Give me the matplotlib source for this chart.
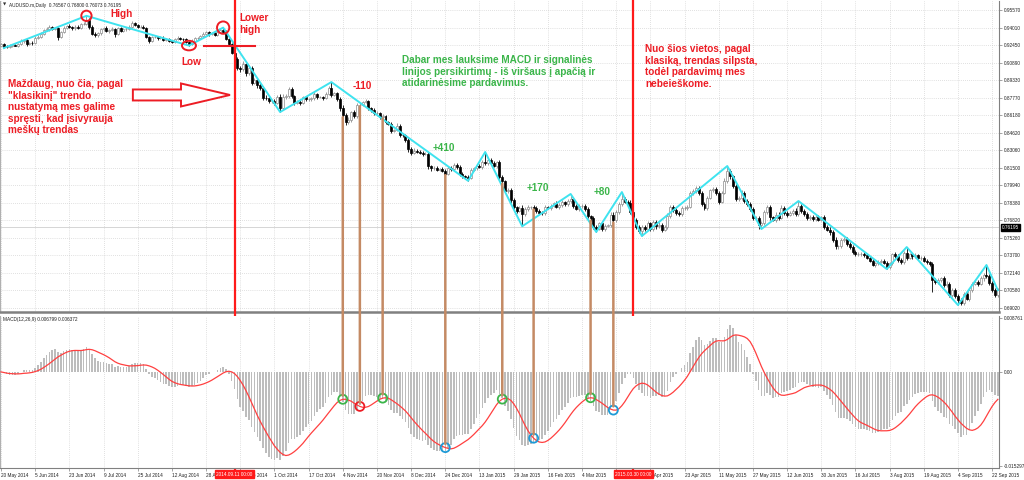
import matplotlib.pyplot as plt
from matplotlib.patches import Ellipse, FancyArrow, ConnectionPatch
import numpy as np
import pandas as pd

# AUDUSD daily closes, one per bar, 20 May 2014 .. 24 Sep 2015 (12 bars per row)
closes = [
    0.9255, 0.9230, 0.9225, 0.9235, 0.9245, 0.9240, 0.9250, 0.9280, 0.9290, 0.9255, 0.9265, 0.9260,
    0.9310, 0.9320, 0.9345, 0.9380, 0.9390, 0.9405, 0.9390, 0.9395, 0.9320, 0.9360, 0.9400, 0.9415,
    0.9405, 0.9395, 0.9410, 0.9395, 0.9430, 0.9435, 0.9470, 0.9410, 0.9345, 0.9330, 0.9350, 0.9385,
    0.9395, 0.9370, 0.9380, 0.9390, 0.9340, 0.9395, 0.9370, 0.9385, 0.9390, 0.9410, 0.9440, 0.9425,
    0.9405, 0.9410, 0.9395, 0.9320, 0.9285, 0.9315, 0.9320, 0.9305, 0.9310, 0.9290, 0.9300, 0.9285,
    0.9275, 0.9300, 0.9310, 0.9300, 0.9295, 0.9275, 0.9255, 0.9285, 0.9305, 0.9310, 0.9325, 0.9345,
    0.9360, 0.9340, 0.9350, 0.9335, 0.9360, 0.9375, 0.9365, 0.9300, 0.9250, 0.9175, 0.9120, 0.9040,
    0.9030, 0.9075, 0.9000, 0.9040, 0.8910, 0.8930, 0.8885, 0.8860, 0.8775, 0.8770, 0.8745, 0.8745,
    0.8730, 0.8785, 0.8680, 0.8780, 0.8790, 0.8850, 0.8790, 0.8730, 0.8740, 0.8730, 0.8780, 0.8760,
    0.8760, 0.8770, 0.8805, 0.8780, 0.8780, 0.8770, 0.8810, 0.8860, 0.8800, 0.8815, 0.8765, 0.8680,
    0.8620, 0.8555, 0.8575, 0.8645, 0.8610, 0.8710, 0.8715, 0.8735, 0.8745, 0.8685, 0.8665, 0.8635,
    0.8640, 0.8605, 0.8615, 0.8555, 0.8545, 0.8480, 0.8485, 0.8525, 0.8445, 0.8440, 0.8400, 0.8315,
    0.8285, 0.8305, 0.8295, 0.8285, 0.8275, 0.8275, 0.8165, 0.8145, 0.8150, 0.8135, 0.8140, 0.8125,
    0.8100, 0.8150, 0.8140, 0.8180, 0.8160, 0.8100, 0.8075, 0.8070, 0.8060, 0.8135, 0.8145, 0.8165,
    0.8160, 0.8200, 0.8190, 0.8220, 0.8190, 0.8170, 0.8200, 0.8065, 0.8030, 0.7945, 0.7955, 0.7860,
    0.7800, 0.7770, 0.7795, 0.7740, 0.7780, 0.7800, 0.7800, 0.7795, 0.7770, 0.7750, 0.7745, 0.7800,
    0.7795, 0.7810, 0.7835, 0.7805, 0.7820, 0.7845, 0.7825, 0.7855, 0.7870, 0.7810, 0.7785, 0.7810,
    0.7810, 0.7785, 0.7720, 0.7700, 0.7625, 0.7610, 0.7655, 0.7610, 0.7635, 0.7640, 0.7735, 0.7685,
    0.7755, 0.7825, 0.7875, 0.7850, 0.7840, 0.7755, 0.7690, 0.7625, 0.7590, 0.7625, 0.7610, 0.7655,
    0.7605, 0.7670, 0.7630, 0.7645, 0.7600, 0.7620, 0.7725, 0.7800, 0.7775, 0.7750, 0.7740, 0.7795,
    0.7795, 0.7805, 0.7925, 0.7940, 0.7970, 0.7930, 0.7830, 0.7795, 0.7885, 0.7950, 0.7960, 0.7925,
    0.7850, 0.7930, 0.8035, 0.8120, 0.8075, 0.7985, 0.7875, 0.7880, 0.7930, 0.7855, 0.7830, 0.7780,
    0.7705, 0.7705, 0.7640, 0.7660, 0.7755, 0.7800, 0.7710, 0.7690, 0.7735, 0.7705, 0.7795, 0.7750,
    0.7735, 0.7750, 0.7770, 0.7740, 0.7815, 0.7765, 0.7740, 0.7700, 0.7715, 0.7695, 0.7715, 0.7690,
    0.7710, 0.7625, 0.7600, 0.7575, 0.7510, 0.7450, 0.7450, 0.7510, 0.7520, 0.7470, 0.7445, 0.7400,
    0.7380, 0.7380, 0.7385, 0.7370, 0.7350, 0.7325, 0.7285, 0.7300, 0.7315, 0.7325, 0.7305, 0.7265,
    0.7300, 0.7380, 0.7365, 0.7330, 0.7310, 0.7390, 0.7350, 0.7380, 0.7365, 0.7370, 0.7345, 0.7350,
    0.7325, 0.7310, 0.7290, 0.7150, 0.7135, 0.7150, 0.7165, 0.7105, 0.7120, 0.7020, 0.7060, 0.7010,
    0.6975, 0.6945, 0.7025, 0.6985, 0.7060, 0.7120, 0.7135, 0.7120, 0.7165, 0.7200, 0.7185, 0.7125,
    0.7060, 0.7020, 0.7060,
]
first_open = 0.9240

# shadows above / below the body, in pips
wick_up = [
    10, 8, 12, 15, 6, 10, 12, 18, 10, 14, 9, 16,
    12, 10, 18, 9, 14, 20, 8, 15, 12, 10, 16, 9,
    14, 10, 9, 12, 8, 16, 35, 12, 10, 14, 9, 11,
    10, 18, 9, 12, 8, 15, 11, 9, 14, 10, 16, 12,
    11, 9, 14, 10, 8, 12, 15, 9, 11, 14, 8, 12,
    9, 12, 14, 8, 10, 11, 9, 12, 14, 10, 9, 12,
    14, 10, 12, 9, 11, 10, 25, 12, 8, 10, 12, 14,
    18, 30, 12, 25, 14, 20, 12, 18, 15, 22, 16, 14,
    15, 18, 20, 28, 15, 22, 18, 14, 16, 20, 12, 15,
    12, 15, 18, 10, 14, 12, 15, 20, 55, 15, 12, 14,
    30, 15, 25, 14, 20, 18, 15, 12, 16, 14, 12, 15,
    15, 12, 18, 10, 14, 16, 12, 25, 15, 18, 14, 20,
    18, 20, 15, 14, 12, 16, 20, 15, 18, 14, 12, 15,
    15, 20, 14, 18, 12, 16, 14, 15, 20, 18, 14, 16,
    16, 18, 92, 20, 15, 18, 14, 25, 18, 15, 20, 14,
    18, 15, 20, 25, 22, 18, 15, 16, 14, 18, 15, 20,
    15, 18, 14, 16, 15, 20, 14, 18, 48, 16, 15, 18,
    18, 15, 16, 14, 20, 18, 15, 22, 16, 14, 25, 18,
    20, 18, 60, 16, 15, 20, 18, 15, 16, 18, 14, 20,
    16, 18, 14, 20, 15, 18, 20, 22, 18, 15, 16, 20,
    18, 15, 20, 22, 16, 18, 15, 20, 18, 16, 20, 18,
    20, 18, 22, 47, 20, 16, 18, 22, 20, 18, 16, 20,
    18, 16, 20, 18, 22, 20, 18, 16, 20, 18, 22, 20,
    16, 18, 15, 20, 40, 18, 16, 14, 18, 15, 16, 18,
    15, 18, 16, 20, 18, 22, 16, 20, 18, 15, 18, 16,
    16, 18, 15, 14, 16, 18, 14, 16, 18, 15, 14, 16,
    14, 16, 18, 15, 20, 18, 55, 16, 14, 18, 15, 16,
    15, 16, 14, 18, 20, 22, 16, 18, 20, 16, 18, 20,
    18, 20, 16, 18, 20, 15, 18, 16, 20, 18, 85, 16,
    18, 16, 20,
]
wick_dn = [
    8, 12, 10, 6, 12, 8, 10, 7, 15, 18, 10, 14,
    10, 14, 8, 12, 9, 16, 12, 10, 30, 14, 8, 11,
    9, 12, 14, 8, 10, 7, 10, 18, 12, 15, 10, 12,
    12, 9, 14, 8, 20, 10, 12, 9, 11, 8, 10, 13,
    10, 12, 8, 15, 18, 10, 9, 14, 10, 8, 13, 9,
    12, 8, 10, 9, 14, 10, 15, 9, 8, 12, 10, 9,
    9, 12, 8, 10, 12, 9, 10, 14, 18, 12, 15, 20,
    25, 14, 28, 20, 18, 15, 22, 14, 20, 12, 18, 15,
    20, 14, 32, 18, 15, 20, 16, 18, 12, 15, 14, 12,
    14, 10, 12, 15, 9, 12, 10, 14, 18, 12, 15, 20,
    18, 22, 15, 20, 18, 15, 12, 14, 10, 15, 18, 12,
    12, 15, 14, 18, 12, 16, 14, 10, 18, 12, 16, 22,
    20, 14, 12, 15, 18, 14, 25, 18, 14, 16, 12, 15,
    14, 12, 18, 10, 16, 20, 15, 14, 25, 12, 15, 14,
    15, 20, 18, 14, 18, 16, 20, 15, 20, 18, 14, 22,
    20, 18, 15, 110, 18, 16, 14, 15, 18, 14, 16, 12,
    14, 16, 12, 15, 18, 14, 16, 12, 15, 18, 14, 16,
    16, 18, 15, 20, 18, 31, 16, 18, 20, 14, 16, 22,
    15, 14, 18, 16, 20, 15, 18, 22, 16, 47, 18, 14,
    18, 14, 20, 16, 18, 14, 15, 18, 16, 20, 14, 16,
    16, 20, 14, 18, 15, 20, 22, 18, 16, 14, 18, 20,
    18, 16, 15, 20, 25, 18, 20, 16, 15, 20, 18, 16,
    20, 18, 30, 34, 16, 18, 20, 15, 18, 16, 14, 18,
    18, 15, 20, 16, 18, 20, 15, 18, 14, 16, 20, 15,
    16, 18, 15, 20, 22, 18, 20, 15, 18, 20, 16, 18,
    15, 14, 16, 18, 14, 16, 12, 14, 16, 15, 14, 16,
    15, 14, 16, 18, 14, 15, 16, 14, 30, 14, 16, 15,
    14, 16, 15, 105, 20, 18, 16, 20, 18, 22, 20, 18,
    47, 12, 18, 16, 20, 18, 15, 20, 16, 18, 20, 18,
    16, 20, 18,
]

date_labels = ['20 May 2014', '5 Jun 2014', '23 Jun 2014', '9 Jul 2014', '25 Jul 2014',
               '12 Aug 2014', '28 Aug 2014', '15 Sep 2014', '1 Oct 2014', '17 Oct 2014',
               '4 Nov 2014', '20 Nov 2014', '8 Dec 2014', '24 Dec 2014', '13 Jan 2015',
               '29 Jan 2015', '16 Feb 2015', '4 Mar 2015', '20 Mar 2015', '7 Apr 2015',
               '23 Apr 2015', '11 May 2015', '27 May 2015', '12 Jun 2015', '30 Jun 2015',
               '16 Jul 2015', '3 Aug 2015', '19 Aug 2015', '4 Sep 2015', '22 Sep 2015']
price_ticks = [0.95570, 0.94010, 0.92450, 0.90890, 0.89330, 0.87770, 0.86180, 0.84620, 0.83060,
               0.81500, 0.79940, 0.78380, 0.76820, 0.75260, 0.73700, 0.72140, 0.70580, 0.69020]
macd_ticks = [0.008761, 0.0, -0.015297]
macd_tick_labels = ['0.008761', '0.00', '-0.015297']
last_price = 0.76195

# zigzag swing points (bar, H = high / L = low / C = close)
zz_bars = [1, 30, 66, 78, 98, 116, 164, 170, 183, 200, 209, 218, 225, 255, 267, 280, 311, 318, 336, 346, 350]
zz_kind = ['L', 'H', 'L', 'H', 'L', 'H', 'L', 'H', 'L', 'H', 'L', 'H', 'L', 'H', 'L', 'H', 'L', 'H', 'L', 'H', 'C']

RED = '#ed1c24'
GREEN = '#3bb54a'
BLUE = '#1e9ad6'
BROWN = '#c48a64'

# MACD / signal crossings marked on the chart
entry_bars = [120, 126, 134, 156, 176, 187, 207, 215]
entry_colors = [GREEN, RED, GREEN, BLUE, GREEN, BLUE, GREEN, BLUE]

results = ['-110', '+410', '+170', '+80']
results_xy = [(123.6, 0.8880), (151.7, 0.8328), (184.7, 0.7971), (207.9, 0.7935)]
results_col = [RED, GREEN, GREEN, GREEN]

vline_bars = [82, 222]
vline_tags = ['2014.09.11 00:00', '2015.03.30 00:00']

txt_left = ('Maždaug, nuo čia, pagal\n"klasikinį" trendo\nnustatymą mes galime\n'
            'spręsti, kad įsivyrauja\nmeškų trendas')
txt_green = ('Dabar mes lauksime MACD ir signalinės\nlinijos persikirtimų - iš viršaus į apačią ir\n'
             'atidarinėsime pardavimus.')
txt_right = 'Nuo šios vietos, pagal\nklasiką, trendas silpsta,\ntodėl pardavimų mes\nnebeieškome.'

# ---- derived series
c = np.array(closes)
o = np.r_[first_open, c[:-1]]
h = np.maximum(o, c) + np.array(wick_up) * 1e-4
l = np.minimum(o, c) - np.array(wick_dn) * 1e-4
x = np.arange(len(c))

cs = pd.Series(closes)
macd = (cs.ewm(span=12, adjust=False).mean() - cs.ewm(span=26, adjust=False).mean()).values
sig = pd.Series(macd).rolling(9, min_periods=1).mean().values

plt.rcParams['font.family'] = ['Liberation Sans', 'DejaVu Sans']
W, H = 1024, 480
fig = plt.figure(figsize=(W / 100, H / 100), dpi=100)


def box(x0, y0, x1, y1):
    return [x0 / W, 1 - y1 / H, (x1 - x0) / W, (y1 - y0) / H]


ax1 = fig.add_axes(box(0, 1, 999, 312))
ax2 = fig.add_axes(box(0, 316, 999, 468))
xlim = (-0.35, 350.4)
grid_kw = dict(color='#c4c4c4', lw=0.5, ls=(0, (1, 2)))

for ax in (ax1, ax2):
    ax.set_xlim(*xlim)
    ax.set_xticks(range(0, 349, 12))
    ax.grid(axis='x', **grid_kw)
    ax.set_axisbelow(True)
    ax.yaxis.tick_right()
    ax.tick_params(axis='both', labelsize=3.4, length=2, width=0.5, color='#808080',
                   labelcolor='#202020', pad=1.2)
    ax.spines['top'].set_visible(False)
    ax.spines['left'].set_color('#b0b0b0')
    ax.spines['right'].set_color('#808080')
    ax.spines['bottom'].set_color('#808080')

# ---- price panel
ax1.set_ylim(0.68664, 0.96372)
ax1.set_yticks(price_ticks, [f'{v:.5f}' for v in price_ticks])
ax1.grid(axis='y', **grid_kw)
ax1.tick_params(axis='x', labelbottom=False, length=0)
ax1.spines['bottom'].set_linewidth(1.8)

up = c >= o
body_lo = np.minimum(o, c)
body_h = np.maximum(np.abs(c - o), 0.00015)
ax1.vlines(x[up], l[up], h[up], color='#8c8c8c', lw=0.6, zorder=2)
ax1.vlines(x[~up], l[~up], h[~up], color='black', lw=0.6, zorder=2)
ax1.bar(x[up], body_h[up], bottom=body_lo[up], width=0.7, color='white',
        edgecolor='#8c8c8c', lw=0.5, zorder=3)
ax1.bar(x[~up], body_h[~up], bottom=body_lo[~up], width=0.7, color='black',
        edgecolor='black', lw=0.5, zorder=3)

ax1.axhline(last_price, color='#cfcfcf', lw=0.6, zorder=1)
ax1.text(1.003, last_price, f'{last_price:.5f}', transform=ax1.get_yaxis_transform(),
         ha='left', va='center', fontsize=3.4, color='white',
         bbox=dict(facecolor='black', edgecolor='black', pad=0.7))

zz_y = [h[i] if k == 'H' else l[i] if k == 'L' else c[i] for i, k in zip(zz_bars, zz_kind)]
ax1.plot(zz_bars, zz_y, color='#3fe3ef', lw=1.4, zorder=4)

# swing markers
ax1.add_patch(Ellipse((30, h[30]), 3.6, 0.0092, fill=False, ec=RED, lw=1.4, zorder=6))
ax1.add_patch(Ellipse((78, h[78]), 4.3, 0.0110, fill=False, ec=RED, lw=1.4, zorder=6))
ax1.add_patch(Ellipse((66, l[66]), 4.9, 0.0085, fill=False, ec=RED, lw=1.4, zorder=6))
ax1.plot([71.3, 89.2], [l[66], l[66]], color=RED, lw=1.5, zorder=6)

ax1.add_patch(FancyArrow(46.3, 0.8800, 34.1, 0, width=0.0098, head_width=0.0205,
                         head_length=17.2, length_includes_head=True,
                         facecolor='white', edgecolor=RED, lw=1.4, zorder=7))

for b in vline_bars:
    ax1.axvline(b, ymin=-(470 - 312) / 311, ymax=1, color='#ff1a1a', lw=1.6,
                clip_on=False, zorder=8)

note = dict(fontweight='bold', fontsize=7.2, zorder=9)
ax1.text(38.3, 0.9521, 'High', color=RED, va='center', **note)
ax1.text(63.2, 0.9094, 'Low', color=RED, va='center', **note)
ax1.text(83.6, 0.9530, 'Lower\nhigh', color=RED, va='top', linespacing=1.3, **note)
ax1.text(2.5, 0.8942, txt_left, color=RED, va='top', linespacing=1.2, **note)
ax1.text(140.8, 0.9156, txt_green, color=GREEN, va='top', linespacing=1.2, **note)
ax1.text(226.1, 0.9254, txt_right, color=RED, va='top', linespacing=1.2, **note)
for t, (tx, ty), col in zip(results, results_xy, results_col):
    ax1.text(tx, ty, t, color=col, va='center', **note)

fig.text(3 / W, 1 - 5 / H, '▼', fontsize=3, va='center', color='#303030', family='DejaVu Sans')
fig.text(9 / W, 1 - 5 / H, 'AUDUSD.m,Daily  0.76567 0.76800 0.76073 0.76195',
         fontsize=3.4, va='center', color='#202020')

# ---- MACD panel
ax2.set_ylim(-0.015622, 0.009086)
ax2.set_yticks(macd_ticks, macd_tick_labels)
ax2.set_xticks(range(0, 349, 12), date_labels, ha='left')
ax2.tick_params(axis='x', pad=1.5)
ax2.bar(x, macd, width=0.55, color='#bdbdbd', zorder=2)
ax2.plot(x, sig, color='#ff4040', lw=0.9, zorder=3)
fig.text(3 / W, 1 - 320 / H, 'MACD(12,26,9) 0.006799 0.006372', fontsize=3.4,
         va='center', color='#202020')

for i, col in zip(entry_bars, entry_colors):
    con = ConnectionPatch(xyA=(i, l[i]), coordsA=ax1.transData,
                          xyB=(i, sig[i] + 0.0006), coordsB=ax2.transData,
                          color=BROWN, lw=1.8, zorder=5)
    fig.add_artist(con)
    ax2.scatter([i], [sig[i]], s=42, facecolors='none', edgecolors=col,
                linewidths=1.3, zorder=6)

for b, tag in zip(vline_bars, vline_tags):
    ax2.text(b, -0.04, tag, transform=ax2.get_xaxis_transform(), ha='center', va='center',
             fontsize=3.4, color='white', zorder=10,
             bbox=dict(facecolor='#ff1a1a', edgecolor='#ff1a1a', pad=0.9))

fig.savefig('out.png', dpi=100)
